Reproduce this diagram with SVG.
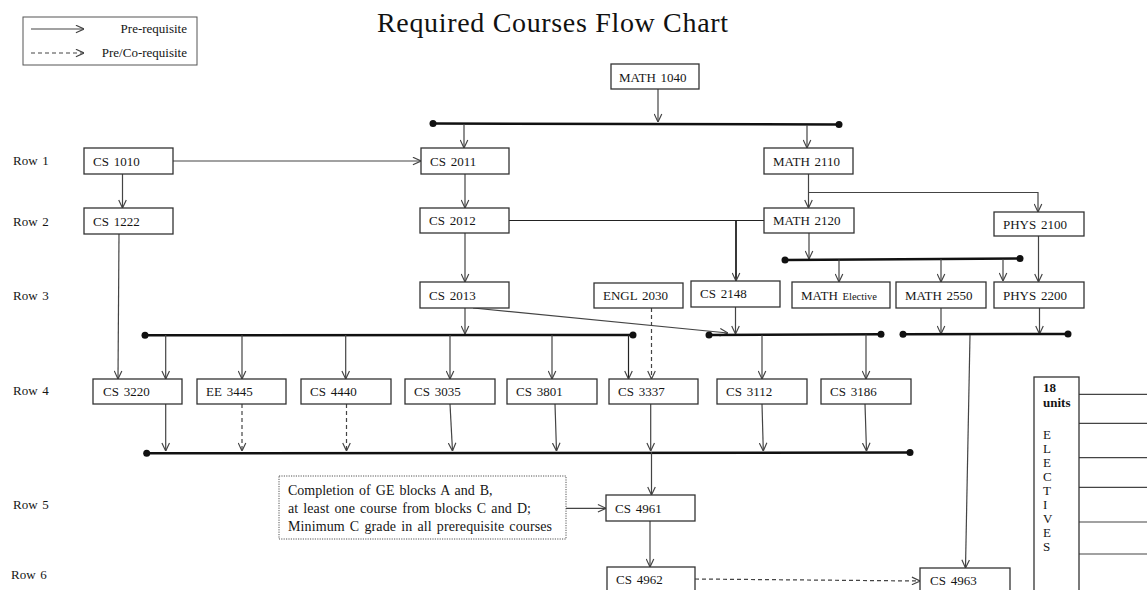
<svg xmlns="http://www.w3.org/2000/svg" width="1147" height="590" viewBox="0 0 1147 590">
<style>
.box{fill:#fff;stroke:#333;stroke-width:1.3}
.t{font-family:"Liberation Serif","Times New Roman",serif;font-size:13px;fill:#151515;word-spacing:1.5px}
.ln{stroke:#444;stroke-width:1.2;fill:none}
.ar{marker-end:url(#ah)}
.dash{stroke-dasharray:4 3}
.bar{stroke:#111;stroke-width:2.5;fill:none}
.dot{fill:#111}
.b{font-weight:bold}
.nt{font-size:14px}
</style>
<defs>
<marker id="ah" viewBox="0 0 10 10" refX="9.5" refY="5" markerWidth="9" markerHeight="9" markerUnits="userSpaceOnUse" orient="auto">
<path d="M0.5,0.8 L9.5,5 L0.5,9.2" fill="none" stroke="#444" stroke-width="1.3"/>
</marker>
</defs>
<rect width="1147" height="590" fill="#fff"/>

<g id="legend">
<rect x="23" y="17" width="174" height="48" fill="#fff" stroke="#555" stroke-width="1"/>
<line class="ln ar" x1="31" y1="29" x2="84" y2="29"/>
<text class="t" x="187" y="33" text-anchor="end">Pre-requisite</text>
<line class="ln ar dash" x1="31" y1="53" x2="84" y2="53"/>
<text class="t" x="187" y="57" text-anchor="end">Pre/Co-requisite</text>
</g>

<text id="title" x="377" y="32" font-family="'Liberation Serif','Times New Roman',serif" font-size="28" fill="#111" textLength="351" lengthAdjust="spacing">Required Courses Flow Chart</text>

<g id="rowlabels" class="t">
<text x="13" y="165">Row 1</text>
<text x="13" y="226">Row 2</text>
<text x="13" y="300">Row 3</text>
<text x="13" y="395">Row 4</text>
<text x="13" y="509">Row 5</text>
<text x="11" y="579">Row 6</text>
</g>

<g id="connectors">
<line class="ln ar" x1="658" y1="89" x2="658" y2="122"/>
<line class="bar" x1="433" y1="123.5" x2="839" y2="124.5"/>
<circle class="dot" cx="433" cy="123.5" r="3.5"/><circle class="dot" cx="839" cy="124.5" r="3.5"/>
<line class="ln ar" x1="464" y1="124" x2="464" y2="148"/>
<line class="ln ar" x1="807" y1="125" x2="807" y2="148"/>
<line class="ln ar" x1="173" y1="161" x2="421" y2="161"/>
<line class="ln ar" x1="122.5" y1="174" x2="122.5" y2="208"/>
<line class="ln ar" x1="119" y1="234" x2="118" y2="379"/>
<line class="ln ar" x1="465" y1="174" x2="465" y2="208"/>
<line class="ln ar" x1="465" y1="233" x2="465" y2="282"/>
<line class="ln" x1="509" y1="220.5" x2="764" y2="220.5" style="stroke:#222"/>
<line class="ln ar" x1="736" y1="220.5" x2="736" y2="281" style="stroke:#222;stroke-width:1.8"/>
<line class="ln ar" x1="808.5" y1="174" x2="808.5" y2="208"/>
<polyline class="ln ar" points="808.5,192.5 1038,192.5 1038,212"/>
<line class="ln ar" x1="809" y1="233" x2="809" y2="259"/>
<line class="bar" x1="785" y1="260" x2="1020" y2="258.5"/>
<circle class="dot" cx="785" cy="260" r="3.5"/><circle class="dot" cx="1020" cy="258.5" r="3.5"/>
<line class="ln ar" x1="839" y1="259.5" x2="839" y2="282"/>
<line class="ln ar" x1="941" y1="259" x2="941" y2="282"/>
<line class="ln ar" x1="1003" y1="259" x2="1003" y2="281"/>
<line class="ln ar" x1="1038.5" y1="236" x2="1038.5" y2="282"/>
<line class="ln ar" x1="465" y1="308" x2="465" y2="334"/>
<line class="bar" x1="145" y1="335.3" x2="633" y2="335"/>
<circle class="dot" cx="145" cy="335.3" r="3.5"/><circle class="dot" cx="633" cy="335" r="3.5"/>
<line class="ln ar" x1="473" y1="308" x2="728" y2="333"/>
<line class="ln ar" x1="735.5" y1="307" x2="735.5" y2="334"/>
<line class="bar" x1="709" y1="335" x2="881" y2="334.3"/>
<circle class="dot" cx="709" cy="335" r="3.5"/><circle class="dot" cx="881" cy="334.3" r="3.5"/>
<line class="ln ar" x1="941" y1="308" x2="941" y2="334"/>
<line class="ln ar" x1="1039.5" y1="308" x2="1039.5" y2="334"/>
<line class="bar" x1="903" y1="334.3" x2="1068" y2="334"/>
<circle class="dot" cx="903" cy="334.3" r="3.5"/><circle class="dot" cx="1068" cy="334" r="3.5"/>
<line class="ln ar" x1="970" y1="335" x2="965.5" y2="568"/>
<line class="ln ar" x1="165.7" y1="335" x2="165.7" y2="379"/>
<line class="ln ar" x1="242" y1="335" x2="242" y2="379"/>
<line class="ln ar" x1="345.7" y1="335" x2="345.7" y2="379"/>
<line class="ln ar" x1="450" y1="335" x2="450" y2="379"/>
<line class="ln ar" x1="552" y1="335" x2="552" y2="379"/>
<line class="ln ar" x1="628.5" y1="335" x2="628.5" y2="379" style="stroke:#222"/>
<line class="ln ar dash" x1="651.5" y1="308" x2="651.5" y2="379"/>
<line class="ln ar" x1="762" y1="335" x2="762" y2="379"/>
<line class="ln ar" x1="866" y1="334.5" x2="866" y2="379"/>
<line class="ln ar" x1="165.7" y1="404" x2="165.7" y2="451"/>
<line class="ln ar dash" x1="242" y1="404" x2="242" y2="451"/>
<line class="ln ar dash" x1="346.5" y1="404" x2="346.5" y2="451"/>
<line class="ln ar" x1="450" y1="404" x2="452.5" y2="451"/>
<line class="ln ar" x1="555" y1="404" x2="556.5" y2="451"/>
<line class="ln ar" x1="650.7" y1="404" x2="650.7" y2="451"/>
<line class="ln ar" x1="762" y1="404" x2="763.3" y2="451"/>
<line class="ln ar" x1="865" y1="404" x2="866.5" y2="451"/>
<line class="bar" x1="146.7" y1="453.3" x2="910" y2="452.5"/>
<circle class="dot" cx="146.7" cy="453.3" r="3.5"/><circle class="dot" cx="910" cy="452.5" r="3.5"/>
<line class="ln ar" x1="651.5" y1="452" x2="651.5" y2="495"/>
<line class="ln ar" x1="566" y1="508.3" x2="606" y2="508.3"/>
<line class="ln ar" x1="650" y1="521" x2="650" y2="567"/>
<line class="ln ar dash" x1="695" y1="579" x2="920" y2="581"/>
<line class="ln" x1="1079" y1="394.3" x2="1147" y2="394.3"/>
<line class="ln" x1="1079" y1="423.3" x2="1147" y2="423.3"/>
<line class="ln" x1="1079" y1="457.7" x2="1147" y2="457.7"/>
<line class="ln" x1="1079" y1="487.3" x2="1147" y2="487.3"/>
<line class="ln" x1="1079" y1="522" x2="1147" y2="522"/>
<line class="ln" x1="1079" y1="554" x2="1147" y2="554"/>
</g>

<g id="math1040"><rect class="box" x="611" y="64" width="88" height="25"/><text class="t" x="619" y="81.5">MATH 1040</text></g>
<g id="cs1010"><rect class="box" x="84" y="148" width="89" height="26"/><text class="t" x="93" y="165.5">CS 1010</text></g>
<g id="cs2011"><rect class="box" x="421" y="148" width="88" height="26"/><text class="t" x="430" y="165.5">CS 2011</text></g>
<g id="math2110"><rect class="box" x="764" y="148" width="89" height="26"/><text class="t" x="773" y="165.5">MATH 2110</text></g>
<g id="cs1222"><rect class="box" x="84" y="208" width="89" height="26"/><text class="t" x="93" y="225.5">CS 1222</text></g>
<g id="cs2012"><rect class="box" x="420" y="208" width="89" height="25"/><text class="t" x="429" y="225">CS 2012</text></g>
<g id="math2120"><rect class="box" x="764" y="208" width="90" height="25"/><text class="t" x="773" y="225">MATH 2120</text></g>
<g id="phys2100"><rect class="box" x="994" y="212" width="90" height="24"/><text class="t" x="1003" y="229">PHYS 2100</text></g>
<g id="cs2013"><rect class="box" x="420" y="282" width="89" height="26"/><text class="t" x="429" y="299.5">CS 2013</text></g>
<g id="engl2030"><rect class="box" x="594" y="283" width="89" height="25"/><text class="t" x="603" y="300">ENGL 2030</text></g>
<g id="cs2148"><rect class="box" x="691" y="281" width="89" height="26"/><text class="t" x="700" y="298">CS 2148</text></g>
<g id="mathelective"><rect class="box" x="792" y="282" width="98" height="26"/><text class="t" x="801" y="300">MATH <tspan font-size="10.5">Elective</tspan></text></g>
<g id="math2550"><rect class="box" x="896" y="282" width="90" height="26"/><text class="t" x="905" y="300">MATH 2550</text></g>
<g id="phys2200"><rect class="box" x="994" y="282" width="90" height="26"/><text class="t" x="1003" y="300">PHYS 2200</text></g>
<g id="cs3220"><rect class="box" x="93" y="379" width="89" height="25"/><text class="t" x="103" y="396">CS 3220</text></g>
<g id="ee3445"><rect class="box" x="197" y="379" width="89" height="25"/><text class="t" x="206" y="396">EE 3445</text></g>
<g id="cs4440"><rect class="box" x="301" y="379" width="90" height="25"/><text class="t" x="310" y="396">CS 4440</text></g>
<g id="cs3035"><rect class="box" x="405" y="379" width="90" height="25"/><text class="t" x="414" y="396">CS 3035</text></g>
<g id="cs3801"><rect class="box" x="507" y="379" width="90" height="25"/><text class="t" x="516" y="396">CS 3801</text></g>
<g id="cs3337"><rect class="box" x="609" y="379" width="89" height="25"/><text class="t" x="618" y="396">CS 3337</text></g>
<g id="cs3112"><rect class="box" x="717" y="379" width="90" height="25"/><text class="t" x="726" y="396">CS 3112</text></g>
<g id="cs3186"><rect class="box" x="821" y="379" width="90" height="25"/><text class="t" x="830" y="396">CS 3186</text></g>
<g id="note"><rect x="279" y="476" width="287" height="63" fill="#fff" stroke="#555" stroke-width="1" stroke-dasharray="1.2 1.2"/>
<text class="t nt" x="288" y="494.5">Completion  of  GE blocks A and B,</text>
<text class="t nt" x="288" y="513" textLength="243" lengthAdjust="spacing">at least one course from blocks C and D;</text>
<text class="t nt" x="288" y="531" textLength="264" lengthAdjust="spacing">Minimum C grade in all prerequisite courses</text></g>
<g id="cs4961"><rect class="box" x="606" y="495" width="89" height="26"/><text class="t" x="615" y="512.5">CS 4961</text></g>
<g id="cs4962"><rect class="box" x="607" y="567" width="88" height="30"/><text class="t" x="616" y="583.5">CS 4962</text></g>
<g id="cs4963"><rect class="box" x="920" y="568" width="90" height="30"/><text class="t" x="930" y="584.5">CS 4963</text></g>
<g id="electives"><rect class="box" x="1034" y="377" width="45" height="220"/>
<text class="t b" x="1043" y="392" font-size="12">18</text>
<text class="t b" x="1043" y="406.5" font-size="11.5">units</text>
<g class="t" font-size="12">
<text x="1043" y="439">E</text><text x="1043" y="453">L</text><text x="1043" y="467">E</text><text x="1043" y="481">C</text><text x="1043" y="495">T</text><text x="1043" y="509">I</text><text x="1043" y="523">V</text><text x="1043" y="537">E</text><text x="1043" y="551">S</text>
</g></g>
</svg>
